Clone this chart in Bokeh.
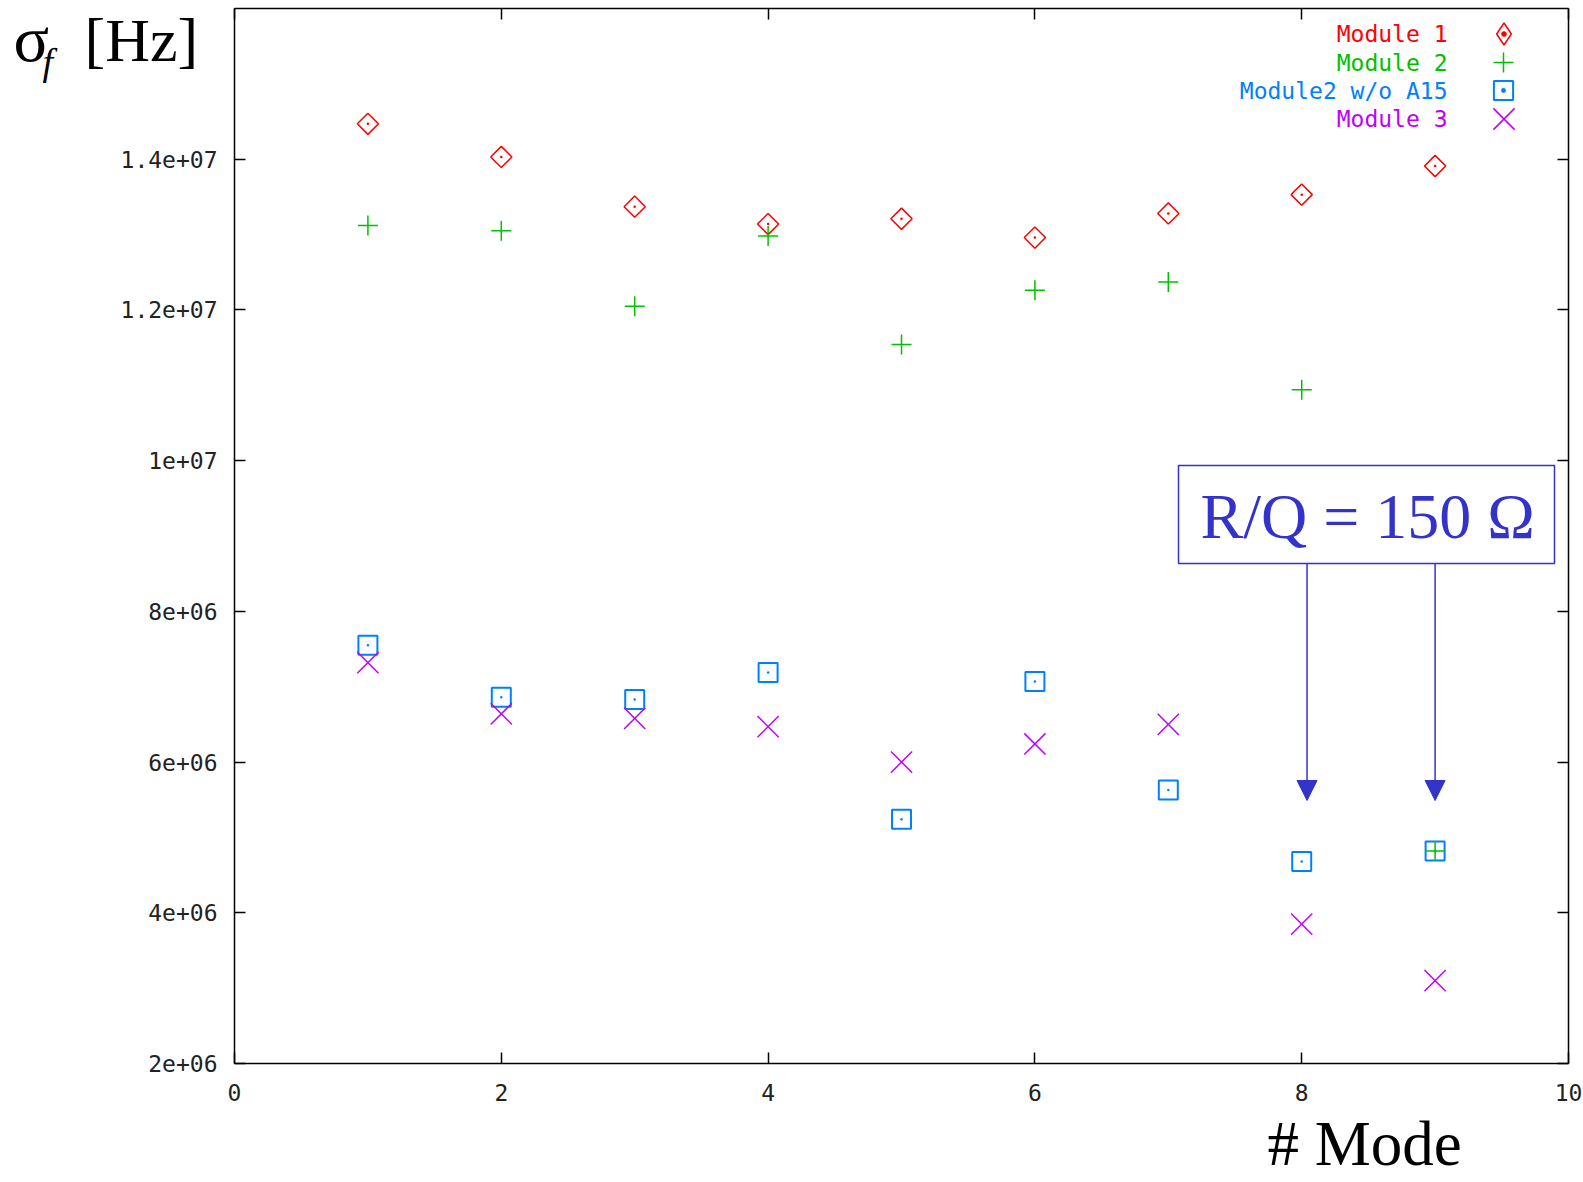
import math
from bokeh.plotting import figure
from bokeh.models import (Range1d, LinearAxis, FixedTicker, Legend, LegendItem, Label,
                          BoxAnnotation, Arrow, NormalHead)
from bokeh.embed import file_html
from bokeh.resources import INLINE

# ---------------- data ----------------
modes = [1, 2, 3, 4, 5, 6, 7, 8, 9]
module1 = [1.447e7, 1.403e7, 1.337e7, 1.314e7, 1.321e7, 1.296e7, 1.328e7, 1.353e7, 1.391e7]
module2 = [1.312e7, 1.305e7, 1.205e7, 1.298e7, 1.154e7, 1.226e7, 1.237e7, 1.094e7, 4.82e6]
module2_wo_a15 = [7.55e6, 6.86e6, 6.83e6, 7.19e6, 5.24e6, 7.07e6, 5.63e6, 4.68e6, 4.82e6]
module3 = [7.32e6, 6.64e6, 6.58e6, 6.47e6, 6.00e6, 6.24e6, 6.50e6, 3.85e6, 3.10e6]

series_names = ["Module 1", "Module 2", "Module2 w/o A15", "Module 3"]
x_ticks = [0, 2, 4, 6, 8, 10]
y_ticks = [2000000, 4000000, 6000000, 8000000, 10000000, 12000000, 14000000]
y_tick_labels = ["2e+06", "4e+06", "6e+06", "8e+06", "1e+07", "1.2e+07", "1.4e+07"]
x_lim = (0, 10)
y_lim = (2e6, 1.6e7)
arrow_modes = [8.04, 9.0]
annotation_text = "R/Q = 150 Ω"
x_title = "# Mode"

# ---------------- layout (canvas pixels) ----------------
W, H = 1583, 1182
PX_L, PX_R, PX_T, PX_B = 234, 1568, 8, 1063
sx = (x_lim[1] - x_lim[0]) / (PX_R - PX_L)
sy = (y_lim[1] - y_lim[0]) / (PX_B - PX_T)
x_start = x_lim[0] - PX_L * sx
x_end = x_lim[1] + (W - PX_R) * sx
y_start = y_lim[0] - (H - PX_B) * sy
y_end = y_lim[1] + PX_T * sy

def dy(py):  # canvas pixel row -> data y
    return y_end - py * sy

def dx(px):  # canvas pixel column -> data x
    return x_start + px * sx

def sy_screen(baseline, fs):  # screen y (from bottom) for a text whose baseline is at canvas row
    return H - (baseline - 0.344 * fs)

RED, GREEN, BLUE, MAGENTA = "#ff0000", "#00c000", "#0080ff", "#c000ff"
ANNO = "#3333cc"
MONO = "DejaVu Sans Mono"
SERIF = "Liberation Serif"

p = figure(width=W, height=H, output_backend="svg", toolbar_location=None,
           x_range=Range1d(x_start, x_end), y_range=Range1d(y_start, y_end),
           min_border=0, min_border_left=0, min_border_right=0,
           min_border_top=0, min_border_bottom=0)
p.grid.visible = False
p.outline_line_color = None
p.background_fill_color = "white"
p.border_fill_color = "white"

def style_axis(ax, labels=True):
    ax.axis_line_width = 1.5
    ax.major_tick_line_width = 1.5
    ax.major_tick_in = 11
    ax.major_tick_out = 0
    ax.minor_tick_line_color = None
    ax.major_label_text_font = MONO
    ax.major_label_text_font_size = "23px"
    if labels:
        ax.major_label_text_color = "#222222"
    else:
        ax.major_label_text_color = None

p.xaxis.ticker = FixedTicker(ticks=x_ticks)
p.yaxis.ticker = FixedTicker(ticks=y_ticks)
p.yaxis.major_label_overrides = dict(zip(y_ticks, y_tick_labels))
p.xaxis.fixed_location = y_lim[0]
p.yaxis.fixed_location = x_lim[0]
p.xaxis.bounds = x_lim
p.yaxis.bounds = y_lim
for ax in p.xaxis + p.yaxis:
    style_axis(ax)
p.xaxis.major_label_standoff = 20
p.yaxis.major_label_standoff = 17

top_ax = LinearAxis(ticker=FixedTicker(ticks=x_ticks), fixed_location=y_lim[1], bounds=x_lim)
right_ax = LinearAxis(ticker=FixedTicker(ticks=y_ticks), fixed_location=x_lim[1], bounds=y_lim)
style_axis(top_ax, labels=False)
style_axis(right_ax, labels=False)
p.add_layout(top_ax, "above")
p.add_layout(right_ax, "right")

# ---------------- markers ----------------
p.scatter(modes, module1, marker="square", angle=math.pi / 4, size=15,
          fill_color=None, line_color=RED, line_width=1.5)
p.scatter(modes, module1, marker="circle", size=2.5, fill_color=RED, line_color=None)
p.scatter(modes, module2_wo_a15, marker="square", size=19,
          fill_color=None, line_color=BLUE, line_width=2)
p.scatter(modes, module2_wo_a15, marker="circle", size=2.5, fill_color=BLUE, line_color=None)
r2 = p.scatter(modes, module2, marker="cross", size=20, line_color=GREEN, line_width=1.5)
r4 = p.scatter(modes, module3, marker="x", size=30, line_color=MAGENTA, line_width=1.5)

# key-only renderers (hidden in the plot; legend keys ignore marker rotation)
k1 = p.scatter(modes, module1, marker="diamond_dot", size=22, fill_color=None,
               line_color=RED, line_width=1.5, visible=False)
k3 = p.scatter(modes, module2_wo_a15, marker="square_dot", size=19, fill_color=None,
               line_color=BLUE, line_width=2, visible=False)

# ---------------- key (gnuplot style: text right-aligned, symbol to its right) ----------------
key_entries = [(series_names[0], k1, RED, 22),
               (series_names[1], r2, GREEN, 20),
               (series_names[2], k3, BLUE, 19),
               (series_names[3], r4, MAGENTA, 30)]
key_rows = [33, 62, 90, 118]
KEY_SYM_X, KEY_TEXT_X, KEY_FS = 1503, 1447, 23
for (name, rend, col, msize), yc in zip(key_entries, key_rows):
    box = round(msize / 0.4)
    leg = Legend(items=[LegendItem(label=name, renderers=[rend])],
                 location=(KEY_SYM_X - box / 2, H - (yc + box / 2)),
                 label_text_color=None, label_text_font_size="1px",
                 glyph_width=box, glyph_height=box, label_height=box, label_width=0,
                 label_standoff=0, padding=0, margin=0, spacing=0,
                 border_line_color=None, background_fill_color=None)
    p.add_layout(leg)
    p.add_layout(Label(x=KEY_TEXT_X, y=H - yc, x_units="screen", y_units="screen",
                       text=name, text_font=MONO, text_font_size=f"{KEY_FS}px",
                       text_color=col, text_align="right", text_baseline="middle"))

# ---------------- annotation ----------------
p.add_layout(BoxAnnotation(left=dx(1178), right=dx(1554), top=dy(465), bottom=dy(563),
                           fill_color=None, line_color=ANNO, line_alpha=1.0, line_width=1.5))
p.add_layout(Label(x=1200, y=sy_screen(538, 64), x_units="screen", y_units="screen",
                   text=annotation_text, text_font=SERIF, text_font_size="64px",
                   text_color=ANNO, text_baseline="middle"))
for xm in arrow_modes:
    p.add_layout(Arrow(x_start=xm, y_start=dy(563), x_end=xm, y_end=dy(800),
                       line_color=ANNO, line_width=1.5,
                       end=NormalHead(size=20, fill_color=ANNO, line_color=ANNO)))

# ---------------- axis titles ----------------
p.add_layout(Label(x=13, y=sy_screen(61, 66), x_units="screen", y_units="screen", text="σ",
                   text_font=SERIF, text_font_size="66px", text_baseline="middle",
                   text_color="black"))
p.add_layout(Label(x=42, y=sy_screen(75, 38), x_units="screen", y_units="screen", text="f",
                   text_font=SERIF, text_font_style="italic", text_font_size="38px",
                   text_baseline="middle", text_color="black"))
p.add_layout(Label(x=84, y=sy_screen(61, 62), x_units="screen", y_units="screen", text="[Hz]",
                   text_font=SERIF, text_font_size="62px", text_baseline="middle",
                   text_color="black"))
p.add_layout(Label(x=1267, y=sy_screen(1165, 63), x_units="screen", y_units="screen",
                   text=x_title, text_font=SERIF, text_font_size="63px",
                   text_baseline="middle", text_color="black"))

open("out.html", "w").write(file_html(p, INLINE))
